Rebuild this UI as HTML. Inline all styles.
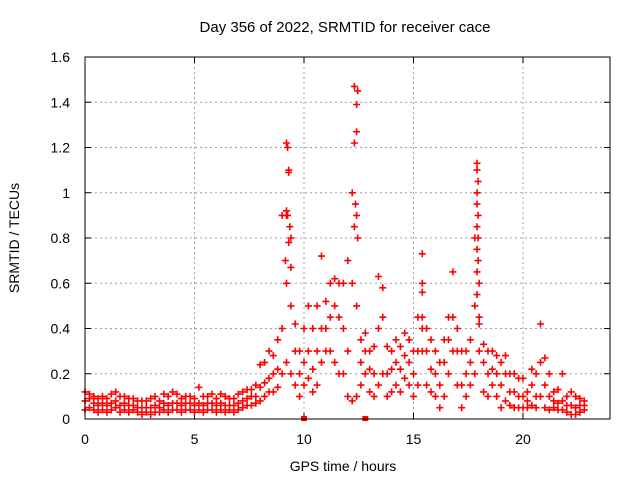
<!DOCTYPE html>
<html><head><meta charset="utf-8"><style>
body{margin:0;background:#fff}
svg{display:block;font-family:"Liberation Sans",sans-serif}
</style></head><body>
<svg id="c" width="640" height="480">
<text x="345" y="32" font-size="15" text-anchor="middle">Day 356 of 2022, SRMTID for receiver cace</text>
<text x="343" y="471" font-size="14" text-anchor="middle">GPS time / hours</text>
<text x="0" y="0" font-size="14" text-anchor="middle" transform="translate(19,238) rotate(-90)">SRMTID / TECUs</text>
<g id="grid"></g>
<g id="marks"></g>
<rect x="85" y="57" width="525" height="362" fill="none" stroke="#000"/>
</svg>
<script>
const xTicks=[0,5,10,15,20];
const yTicks=[0,0.2,0.4,0.6,0.8,1,1.2,1.4,1.6];
const yTickLabels=["0","0.2","0.4","0.6","0.8","1","1.2","1.4","1.6"];
const step=0.2;
const lo=[0.04,0.05,0.04,0.03,0.04,0.03,0.04,0.05,0.03,0.04,0.03,0.04,0.03,0.02,0.03,0.02,0.03,0.03,0.04,0.03,0.04,0.04,0.03,0.04,0.04,0.03,0.04,0.03,0.04,0.04,0.03,0.04,0.03,0.04,0.03,0.04,0.05,0.06,
0.06,0.07,0.08,0.1,0.12,0.12,0.14, 0.2,0.25,0.2,0.15, 0.1,0.15,0.18,0.12,0.15,0.25, 0.3,0.3,0.25,0.2,0.2, 0.1,0.08,0.1, 0.15,0.2,0.12,0.1, 0.15,0.2,
0.1,0.12,0.15,0.12,0.18,0.15,0.1, 0.15,0.3, 0.15,0.12,0.1,0.05, 0.1,0.2,0.3, 0.15,0.05,0.1,0.15, 0.2,0.3, 0.12,0.1,0.15,0.1,
0.05,0.08,0.06,0.05,0.05, 0.05,0.05,0.06,0.05,0.1, 0.05,0.04,0.05,0.04,0.04, 0.03,0.02,0.02,0.03,0.04];
const mid=[0.08,0.09,0.07,0.06,0.07,0.06,0.07,0.08,0.06,0.07,0.06,0.06,0.05,0.05,0.05,0.05,0.06,0.05,0.07,0.06,0.07,0.07,0.06,0.07,0.07,0.06,0.07,0.06,0.07,0.07,0.06,0.07,0.06,0.06,0.06,0.07,0.08,0.09,
0.1,0.1,0.14,0.16,0.18,0.2,0.22, 0.4,0.6,0.5,0.3, 0.2,0.25,0.3,0.22,0.3,0.4, 0.4,0.45,0.5,0.45,0.4, 0.3,0.6,0.5, 0.25,0.3,0.22,0.2, 0.4,0.45,
0.2,0.22,0.25,0.22,0.28,0.25,0.2, 0.3,0.4, 0.3,0.22,0.2,0.15, 0.25,0.35,0.45, 0.3,0.15,0.2,0.25, 0.5,0.42, 0.25,0.2,0.22,0.2,
0.15,0.2,0.12,0.12,0.1, 0.1,0.08,0.15,0.1,0.25, 0.15,0.1,0.08,0.07,0.08, 0.06,0.06,0.05,0.06,0.06];
const hi=[0.12,0.11,0.10,0.09,0.10,0.09,0.11,0.12,0.10,0.10,0.09,0.09,0.08,0.08,0.08,0.09,0.10,0.08,0.11,0.10,0.12,0.11,0.09,0.10,0.10,0.09,0.14,0.10,0.10,0.11,0.09,0.11,0.10,0.09,0.09,0.11,0.12,0.13,
0.13,0.15,0.24,0.25,0.3,0.28,0.35, 0.9,0.9,0.8,0.42, 0.3,0.4,0.5,0.4,0.5,0.72, 0.52,0.6,0.62,0.6,0.6, 0.7,1.0,0.9, 0.35,0.38,0.3,0.32, 0.63,0.58,
0.32,0.3,0.35,0.32,0.38,0.35,0.3, 0.45,0.45, 0.4,0.35,0.3,0.25, 0.35,0.45,0.65, 0.4,0.3,0.3,0.35, 0.8,0.45, 0.33,0.3,0.3,0.28,
0.25,0.28,0.2,0.2,0.18, 0.18,0.12,0.22,0.2,0.42, 0.27,0.2,0.12,0.13,0.2, 0.1,0.12,0.1,0.09,0.08];
const spikeT=[9.2,9.25,9.3,9.3,9.2,9.25,9.35,9.3,9.15,9.4, 12.3,12.45,12.4,12.4,12.3,12.35,12.4,12.3,12.45, 15.4,15.4,15.4, 17.9,17.9,17.95,17.9,17.9,17.95,17.9,17.95,17.9,17.95,17.9,18.0,17.9];
const spikeV=[1.22,1.2,1.1,1.09,0.92,0.9,0.85,0.78,0.7,0.67, 1.47,1.45,1.39,1.27,1.22,0.95,0.9,0.85,0.8, 0.73,0.6,0.56, 1.13,1.1,1.05,1.0,0.95,0.9,0.85,0.8,0.75,0.7,0.65,0.6,0.55];
const zeroT=[10,12.8];
const NS="http://www.w3.org/2000/svg";
const X=t=>85+t*21.9, Y=v=>419-v*226.25;
const grid=document.getElementById('grid'), marks=document.getElementById('marks'), svg=document.getElementById('c');
function mk(tag,a,p){const e=document.createElementNS(NS,tag);for(const k in a)e.setAttribute(k,a[k]);p.appendChild(e);return e;}
yTicks.forEach((v,i)=>{
 if(v>0&&v<1.6){const g=mk('line',{x1:85,x2:610,y1:Y(v),y2:Y(v),stroke:'#a0a0a0','stroke-dasharray':'2,3'},grid);
 
 }
 const tk=mk('path',{d:`M85 ${Y(v)}h6M610 ${Y(v)}h-6`,stroke:'#000'},grid);
 
 
 const t=mk('text',{x:70,y:Y(v)+5,'font-size':14,'text-anchor':'end'},svg);t.textContent=yTickLabels[i];
 
 
});
xTicks.forEach(v=>{
 if(v>0){const g=mk('line',{x1:X(v),x2:X(v),y1:57,y2:419,stroke:'#a0a0a0','stroke-dasharray':'2,3'},grid);
 
 }
 const tk=mk('path',{d:`M${X(v)} 419v-6M${X(v)} 57v6`,stroke:'#000'},grid);
 
 
 const t=mk('text',{x:X(v),y:444,'font-size':14,'text-anchor':'middle'},svg);t.textContent=String(v);
 
 
});
let d='';
function plus(t,v){const x=X(t),y=Y(v);d+=`M${(x-3.5).toFixed(1)} ${y.toFixed(1)}h7M${x.toFixed(1)} ${(y-3.5).toFixed(1)}v7`;}
for(let i=0;i<mid.length;i++){const t=i*step;plus(t,lo[i]);plus(t,mid[i]);plus(t,hi[i]);}
spikeT.forEach((t,i)=>plus(t,spikeV[i]));
const p=mk('path',{d:d,stroke:'#ff0000','stroke-width':1.6,fill:'none'},marks);


zeroT.forEach(t=>{const r=mk('rect',{x:X(t)-3,y:416,width:6,height:5,fill:'#ff0000'},marks);
 
 });
</script>
</body></html>
